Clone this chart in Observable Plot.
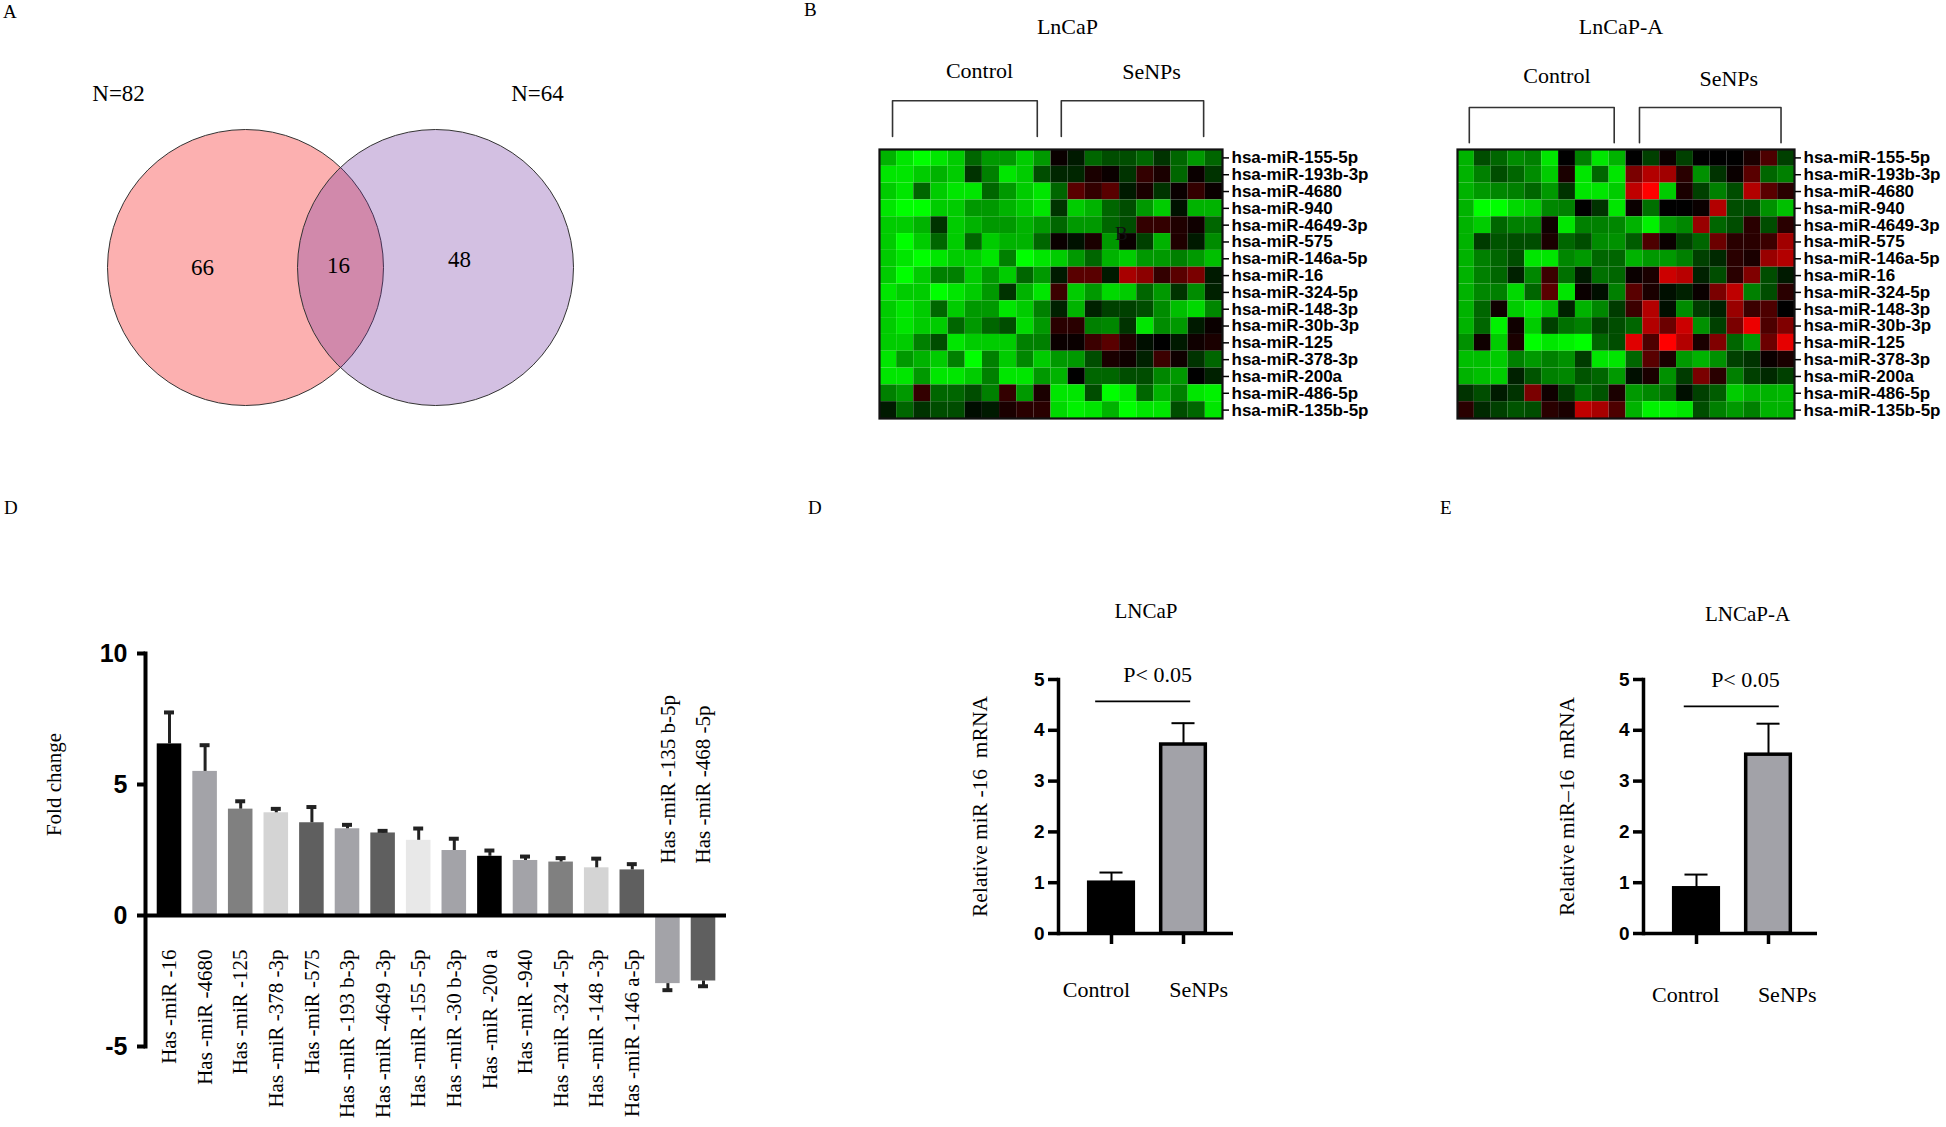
<!DOCTYPE html>
<html>
<head>
<meta charset="utf-8">
<script src="https://cdn.jsdelivr.net/npm/d3@7"></script>
<script src="https://cdn.jsdelivr.net/npm/@observablehq/plot@0.6"></script>
<style>
  html, body { margin: 0; padding: 0; background: #fff; overflow: hidden; }
  #fig { position: relative; width: 1946px; height: 1127px; background: #fff; overflow: hidden; }
  .letter { position: absolute; font-family: "Liberation Serif", "Times New Roman", serif; font-size: 19px; line-height: 19px; color: #000; }
</style>
</head>
<body>
<div id="fig"></div>
<script>
// ---------------- DATA ----------------
// Panel A: Venn
const vennTotals = [82, 64];
const vennCounts = [66, 16, 48]; // left only, shared, right only

// Panel B: heatmaps (rows = miRNAs, 20 samples: 10 Control, 10 SeNPs); -10 = green, 0 = black, +10 = red
const heatRows = ["hsa-miR-155-5p","hsa-miR-193b-3p","hsa-miR-4680","hsa-miR-940","hsa-miR-4649-3p","hsa-miR-575","hsa-miR-146a-5p","hsa-miR-16","hsa-miR-324-5p","hsa-miR-148-3p","hsa-miR-30b-3p","hsa-miR-125","hsa-miR-378-3p","hsa-miR-200a","hsa-miR-486-5p","hsa-miR-135b-5p"];
const heatGroups = ["Control", "SeNPs"];
const lncapHeat = [
  [-7,-9,-10,-9,-8,-4,-6,-6,-8,-6, 0.4,-1,-4,-3,-3,-4,-2,-4,-6,-4],
  [-9,-9,-8,-7,-8,-2,-5,-9,-8,-3, -1.5,-1.5,1,0.4,-2,2,1,-4,0.4,-2],
  [-8,-9,-4,-8,-9,-9,-4,-6,-8,-9, -4,3.5,2,3.5,-1,1,-2,0.4,2,0.4],
  [-9,-10,-10,-8,-8,-6,-6,-7,-8,-9, -2,-8,-7,-4,-3,-6,-8,-0.7,-7,-7],
  [-8,-8,-7,-2,-8,-7,-6,-6,-7,-6, -4,-6,-6,-4,-3,2,2,1.2,0.6,-4],
  [-8,-10,-8,-4,-8,-4,-8,-7,-7,-4, 0.4,-0.7,1,-6,0.4,-2.5,-7,1.2,-1,-5.5],
  [-8,-9,-10,-9,-8,-8,-9,-5,-10,-9, -8,-6,-4,-7,-8,-6,-6,-5,-6,-7.5],
  [-8,-10,-8,-5,-5,-8,-6,-8,-4,-6, -1,3.5,3.5,-1,6.6,5.5,2,3.5,4.8,-1],
  [-9,-8,-8,-10,-9,-8,-6,-2,-7,-9, 2.3,-8,-6,-8.5,-8,-4,-6,-2,-5.5,-1.3],
  [-8,-9,-8,-4,-8,-6,-6,-9,-8,-5, -1.3,-7,-1.3,-2.5,-2.5,-3,-5.5,-7.5,-8.5,-5.3],
  [-8,-9,-8,-8,-4,-6,-4,-3,-8.5,-6, 1.6,1.6,-5,-5.3,-2,-9,-5.5,-6,-1,0.4],
  [-8,-8,-5,-3,-9,-8,-8,-8,-5,-5, 0.4,0.4,2.3,3.5,1.2,-0.6,0,-1,0.6,1],
  [-9,-6,-7,-8,-5,-10,-5,-8,-5.3,-8, -6,-6,-3,1,0.6,-1.3,2.3,0.6,-2,-4],
  [-9,-9,-6,-9,-9,-8,-5,-9,-9,-6, -7,0,-4,-4,-3,-3,-5.3,-6,0,-1.3],
  [-5,-6,2,-4,-4,-3,-5,2,-6,1, -9,-9,-3,-10,-9,-4,-7,-5,-9,-9.5],
  [-1,-4,-2,-3,-3,-0.5,-1,1,1.6,1.6, -8.5,-9.5,-9,-7,-10,-9,-9,-3,-4,-9]
];
const lncapAHeat = [
  [-7,-3,-4,-5.5,-5,-9,0,-5,-9,-7, 0,-2.5,0.4,-2.5,0,0,0,1,3,-2.5],
  [-7,-5,-3,-4,-5.5,-8,1,-9,-4,-9, 4.8,7,6.3,1.6,-5.7,-2,0.4,3.5,-4,-5],
  [-7,-6,-5.3,-5,-4,-6,-2,-9,-9,-8, 7.5,10,-8,1,-2.5,-5,-3,7,3.5,1.6],
  [-7,-10,-10,-8.5,-8,-5.3,-5,0,-2,-9, 0.4,-4.4,0,0,0.4,7,-3,-3,-5.7,-7.5],
  [-7,-8,-4,-5,-5,0.6,-9,-5,-5,-5.3, -7,-9.5,-6,-5.3,6,-4,-3,1.6,-3,1.6],
  [-7,-2.3,-3.3,-3,-3,1,-4,-3,-5.5,-5.7, -3.6,3,0.4,-2.5,-4,4.2,1.6,1.6,2.3,6.3],
  [-7,-5,-4,-3,-9,-9,-5.3,-6,-4,-4, -7,-6,-6,-5,-2.5,-1.6,1.6,1,6,7],
  [-7,-5,-4,-1.3,-5.3,2.3,-4.4,-1,-4.4,-4, 0.4,1,8,7.2,-1.3,-3,1.6,5,-3,-1],
  [-7,-5.3,-5,-8.5,-4,3.5,-9,0.4,-0.6,-5, 3.5,1,-0.6,-1.3,0.4,4.8,7.5,-5,-3,1.6],
  [-7,-4,0.6,-8,-9,-7.5,-1.3,-7,-5.3,-2.3, 2.3,7,-0.6,-5.5,-2.3,-1.3,6,2.3,3,0],
  [-7,-4,-9.5,0.6,-8,-2.5,-4.4,-5,-2.5,-3, -4,7,4.2,8,-5.7,-2.5,4.8,9.3,3,5],
  [-5.7,0.6,-8,1,-10,-9,-9.5,-10,-4,-3, 8.8,3,10,7,1,5,-4,-6,4.2,9],
  [-7.5,-7.5,-8,-5,-6,-5,-5.7,-2.3,-9,-9, -4,3.5,1,-6,-7,-5.7,-2.5,-2,0.4,1],
  [-7,-7.5,-8,-1.3,-3.3,-5,-5.3,-3.3,-4,-6, -0.6,1,-5.7,-2.3,4.8,1.6,-5,-2.5,-1.6,-2.5],
  [-2,-3,-1,-2,4.8,0.6,-2.3,-4.4,-3.3,1, -6,-5.3,-4.4,-0.6,-2.5,-3.6,-8,-7,-7,-7.2],
  [1.6,-1.6,-2.5,-3.3,-3,1.6,1,7.5,6.6,3, -7,-9.5,-9.5,-9,-3,-5,-6,-5,-7,-7]
];

// Panel D (left): fold change
const foldNames = ["Has -miR -16","Has -miR -4680","Has -miR -125","Has -miR -378 -3p","Has -miR -575","Has -miR -193 b-3p","Has -miR -4649 -3p","Has -miR -155 -5p","Has -miR -30 b-3p","Has -miR -200 a","Has -miR -940","Has -miR -324 -5p","Has -miR -148 -3p","Has -miR -146 a-5p","Has -miR -135 b-5p","Has -miR -468 -5p"];
const foldValues = [6.55, 5.5, 4.06, 3.92, 3.54, 3.31, 3.15, 2.87, 2.48, 2.26, 2.1, 2.04, 1.82, 1.74, -2.6, -2.5];
const foldErrors = [1.2, 1.0, 0.3, 0.15, 0.6, 0.15, 0.08, 0.45, 0.45, 0.22, 0.15, 0.15, 0.35, 0.22, 0.25, 0.2];

// Panels D (middle) and E: relative miR-16
const qpcrGroups = ["Control", "SeNPs"];
const lncapMean = [1.0, 3.72];
const lncapErr = [0.2, 0.42];
const lncapAMean = [0.89, 3.52];
const lncapAErr = [0.27, 0.61];

// ---------------- STYLE ----------------
const SERIF = "'Liberation Serif','Times New Roman',serif";
const SANS = "'Liberation Sans',Arial,sans-serif";
const fig = document.getElementById("fig");
function place(node, left, top) {
  node.style.position = "absolute";
  node.style.left = left + "px";
  node.style.top = top + "px";
  fig.appendChild(node);
}
function letter(t, left, top) {
  const d = document.createElement("div");
  d.className = "letter"; d.textContent = t;
  d.style.left = left + "px"; d.style.top = top + "px";
  fig.appendChild(d);
}
const baseStyle = {background: "transparent", overflow: "visible", fontFamily: SERIF, color: "#000"};
const intFmt = d => String(d);

// ---------------- PANEL A: Venn ----------------
{
  const sets = vennTotals.map((n, i) => ({i, n}));
  const regions = vennCounts.map((c, i) => ({i, c}));
  const regionX = [-0.226, 0.49, 1.126], regionY = [0, 0.012, 0.046];
  const plot = Plot.plot({
    width: 700, height: 470, margin: 0,
    x: {domain: [0, 1], range: [245, 435], axis: null},
    y: {domain: [0, 1], range: [267, 93], axis: null},
    style: baseStyle,
    marks: [
      Plot.dot(sets.slice(0, 1), {x: "i", y: 0, r: 138, fill: "#fcb0b0", stroke: "#333", strokeWidth: 1}),
      Plot.dot(sets.slice(1), {x: "i", y: 0, r: 138, fill: "rgb(108,45,158)", fillOpacity: 0.3, stroke: "#333", strokeWidth: 1}),
      Plot.text(sets, {x: d => d.i === 0 ? -0.668 : 1.537, y: 1, text: d => `N=${d.n}`, fontSize: 23, fontFamily: SERIF, fill: "#000"}),
      Plot.text(regions, {x: d => regionX[d.i], y: d => regionY[d.i], text: d => String(d.c), fontSize: 23, fontFamily: SERIF, fill: "#000"})
    ]
  });
  place(plot, 0, 0);
}

// ---------------- PANEL B: heatmaps ----------------
function heatmap(matrix, cfg) {
  const cells = [];
  matrix.forEach((row, r) => row.forEach((v, c) => cells.push({r, c, v})));
  const groups = heatGroups.map((g, k) => ({g, x1: k * 10 + cfg.bx[k][0], x2: k * 10 + cfg.bx[k][1]}));
  const pts = groups.flatMap(g => [
    {g: g.g, x: g.x1, y: cfg.by[1]}, {g: g.g, x: g.x1, y: cfg.by[0]},
    {g: g.g, x: g.x2, y: cfg.by[0]}, {g: g.g, x: g.x2, y: cfg.by[1]}
  ]);
  const marks = [
    Plot.rect(cells, {x1: "c", x2: d => d.c + 1, y1: "r", y2: d => d.r + 1, fill: "v"}),
    Plot.frame({stroke: "#111", strokeWidth: 2.2}),
    Plot.axisY(d3.range(heatRows.length).map(i => i + 0.5), {
      anchor: "right", label: null, tickSize: 6, tickPadding: 3,
      tickFormat: d => heatRows[Math.floor(d)], fontSize: 17, fontWeight: "bold", fontFamily: SANS,
      stroke: "#000", strokeWidth: 1.5, fill: "#000"
    }),
    Plot.line(pts, {x: "x", y: "y", z: "g", stroke: "#333", strokeWidth: 1.6}),
    Plot.text(groups, {x: (d, k) => cfg.gx[k], y: (d, k) => cfg.gy[k], text: "g", fontSize: 22, fontFamily: SERIF, fill: "#000"}),
    Plot.text([cfg.title], {x: cfg.tx, y: cfg.ty, text: d => d, fontSize: 22, fontFamily: SERIF, fill: "#000"})
  ];
  if (cfg.extra) marks.push(cfg.extra);
  return Plot.plot({
    width: cfg.width, height: 430,
    marginLeft: cfg.mL, marginRight: cfg.mR, marginTop: 149, marginBottom: 12,
    x: {domain: [0, 20], axis: null},
    y: {domain: [0, heatRows.length], reverse: true},
    color: {type: "linear", domain: [-10, 0, 10], range: ["#00ff00", "#000000", "#ff0000"], interpolate: "rgb"},
    style: baseStyle,
    marks
  });
}
place(heatmap(lncapHeat, {
  width: 600, mL: 79, mR: 178, title: "LnCaP", tx: 10.96, ty: -7.3,
  gx: [5.83, 15.86], gy: [-4.7, -4.6], bx: [[0.76, 9.2], [0.6, 8.9]], by: [-2.9, -0.77],
  extra: Plot.text(["B"], {x: 14.1, y: 5.0, text: d => d, fontSize: 19, fontFamily: SERIF, fill: "#111"})
}), 800, 0);
place(heatmap(lncapAHeat, {
  width: 526, mL: 37, mR: 152, title: "LnCaP-A", tx: 9.7, ty: -7.3,
  gx: [5.9, 16.1], gy: [-4.4, -4.2], bx: [[0.7, 9.3], [0.8, 9.2]], by: [-2.5, -0.4]
}), 1420, 0);

// ---------------- PANEL D (left): fold change ----------------
{
  const data = foldNames.map((name, i) => ({i, name, fc: foldValues[i], err: foldErrors[i]}));
  const barPalette = ["#000000","#a3a3a8","#808080","#d4d4d4","#5f5f5f","#a3a3a8","#5f5f5f","#e8e8e8","#a3a3a8","#000000","#a3a3a8","#808080","#d4d4d4","#5f5f5f","#a3a3a8","#5f5f5f"];
  const end = d => d.fc + Math.sign(d.fc) * d.err;
  const plot = Plot.plot({
    width: 780, height: 567,
    marginLeft: 145, marginRight: 54, marginTop: 93, marginBottom: 81,
    x: {domain: [0, 15], range: [169, 703], axis: null},
    y: {domain: [-5, 10]},
    color: {type: "identity"},
    style: baseStyle,
    marks: [
      Plot.rect(data, {x1: d => d.i - 0.345, x2: d => d.i + 0.345, y1: 0, y2: "fc", fill: d => barPalette[d.i]}),
      Plot.ruleX(data, {x: "i", y1: "fc", y2: end, stroke: "#222", strokeWidth: 3}),
      Plot.ruleY(data, {y: end, x1: d => d.i - 0.14, x2: d => d.i + 0.14, stroke: "#222", strokeWidth: 4}),
      Plot.ruleY([0], {stroke: "#000", strokeWidth: 4}),
      Plot.frame({anchor: "left", stroke: "#000", strokeWidth: 4}),
      Plot.axisY({ticks: [-5, 0, 5, 10], tickFormat: intFmt, label: null, tickSize: 8, tickPadding: 10, fontSize: 25, fontWeight: "bold", fontFamily: SANS, strokeWidth: 4, fill: "#000", stroke: "#000"}),
      Plot.text(data.filter(d => d.fc >= 0), {x: "i", y: 0, text: "name", rotate: -90, textAnchor: "end", dy: 34, fontSize: 21, fontFamily: SERIF, fill: "#000"}),
      Plot.text(data.filter(d => d.fc < 0), {x: "i", y: 0, text: "name", rotate: -90, textAnchor: "start", dy: -52, fontSize: 21, fontFamily: SERIF, fill: "#000"}),
      Plot.text(["Fold change"], {y: 5, frameAnchor: "left", textAnchor: "middle", dx: -91, rotate: -90, text: d => d, fontSize: 21, fontFamily: SERIF, fill: "#000"})
    ]
  });
  place(plot, 0, 560);
}

// ---------------- PANELS D (middle) and E ----------------
function qpcr(means, errs, cfg) {
  const data = qpcrGroups.map((g, i) => ({i, g, m: means[i], e: errs[i]}));
  const fills = ["#000000", "#a2a2a8"];
  return Plot.plot({
    width: cfg.width, height: 460,
    marginLeft: cfg.mL, marginRight: cfg.mR, marginTop: 119, marginBottom: 87,
    x: {domain: [0, 1], range: cfg.xr},
    y: {domain: [0, 5]},
    color: {type: "identity"},
    style: baseStyle,
    marks: [
      Plot.rect(data, {x1: d => d.i - 0.31, x2: d => d.i + 0.31, y1: 0, y2: "m", fill: d => fills[d.i], stroke: "#000", strokeWidth: 3.5}),
      Plot.ruleX(data, {x: "i", y1: "m", y2: d => d.m + d.e, stroke: "#000", strokeWidth: 2}),
      Plot.ruleY(data, {y: d => d.m + d.e, x1: d => d.i - 0.16, x2: d => d.i + 0.16, stroke: "#000", strokeWidth: 2}),
      Plot.ruleY([0], {stroke: "#000", strokeWidth: 3.5}),
      Plot.frame({anchor: "left", stroke: "#000", strokeWidth: 3.5}),
      Plot.axisY({ticks: [0, 1, 2, 3, 4, 5], tickFormat: intFmt, label: null, tickSize: 10, tickPadding: 4, fontSize: 19, fontWeight: "bold", fontFamily: SANS, strokeWidth: 3.5, fill: "#000", stroke: "#000"}),
      Plot.axisX([0, 1], {label: null, tickSize: 11, tickFormat: () => "", strokeWidth: 3.5, stroke: "#000"}),
      Plot.text(data, {x: d => d.i + cfg.labelDx[d.i], y: 0, text: "g", dy: cfg.labelDy, fontSize: 22, fontFamily: SERIF, fill: "#000"}),
      Plot.ruleY([cfg.sigY], {x1: cfg.sigX[0], x2: cfg.sigX[1], stroke: "#000", strokeWidth: 1.6}),
      Plot.text(["P< 0.05"], {x: cfg.pX, y: cfg.pY, text: d => d, fontSize: 22, fontFamily: SERIF, fill: "#000"}),
      Plot.text([cfg.title], {frameAnchor: "top", lineAnchor: "middle", dx: cfg.titleDx, dy: cfg.titleDy, text: d => d, fontSize: 21, fontFamily: SERIF, fill: "#000"}),
      Plot.text([cfg.yLabel], {frameAnchor: "left", textAnchor: "middle", dx: cfg.yLabelDx, rotate: -90, text: d => d, fontSize: 21.5, fontFamily: SERIF, fill: "#000"})
    ]
  });
}
place(qpcr(lncapMean, lncapErr, {
  width: 420, mL: 178, mR: 67, xr: [231, 303], labelDy: 56, labelDx: [-0.21, 0.21],
  sigY: 4.57, sigX: [-0.22, 1.1], pX: 0.64, pY: 5.08,
  title: "LNCaP", titleDx: 0, titleDy: -68, yLabel: "Relative miR -16  mRNA", yLabelDx: -78
}), 880, 560);
place(qpcr(lncapAMean, lncapAErr, {
  width: 466, mL: 163, mR: 129, xr: [216, 288], labelDy: 61, labelDx: [-0.15, 0.26],
  sigY: 4.47, sigX: [-0.17, 1.15], pX: 0.68, pY: 5.0,
  title: "LNCaP-A", titleDx: 17, titleDy: -65, yLabel: "Relative miR–16  mRNA", yLabelDx: -76
}), 1480, 560);

// ---------------- panel letters ----------------
letter("A", 3, 2);
letter("B", 804, 0);
letter("D", 4, 498);
letter("D", 808, 498);
letter("E", 1440, 498);
</script>
</body>
</html>
